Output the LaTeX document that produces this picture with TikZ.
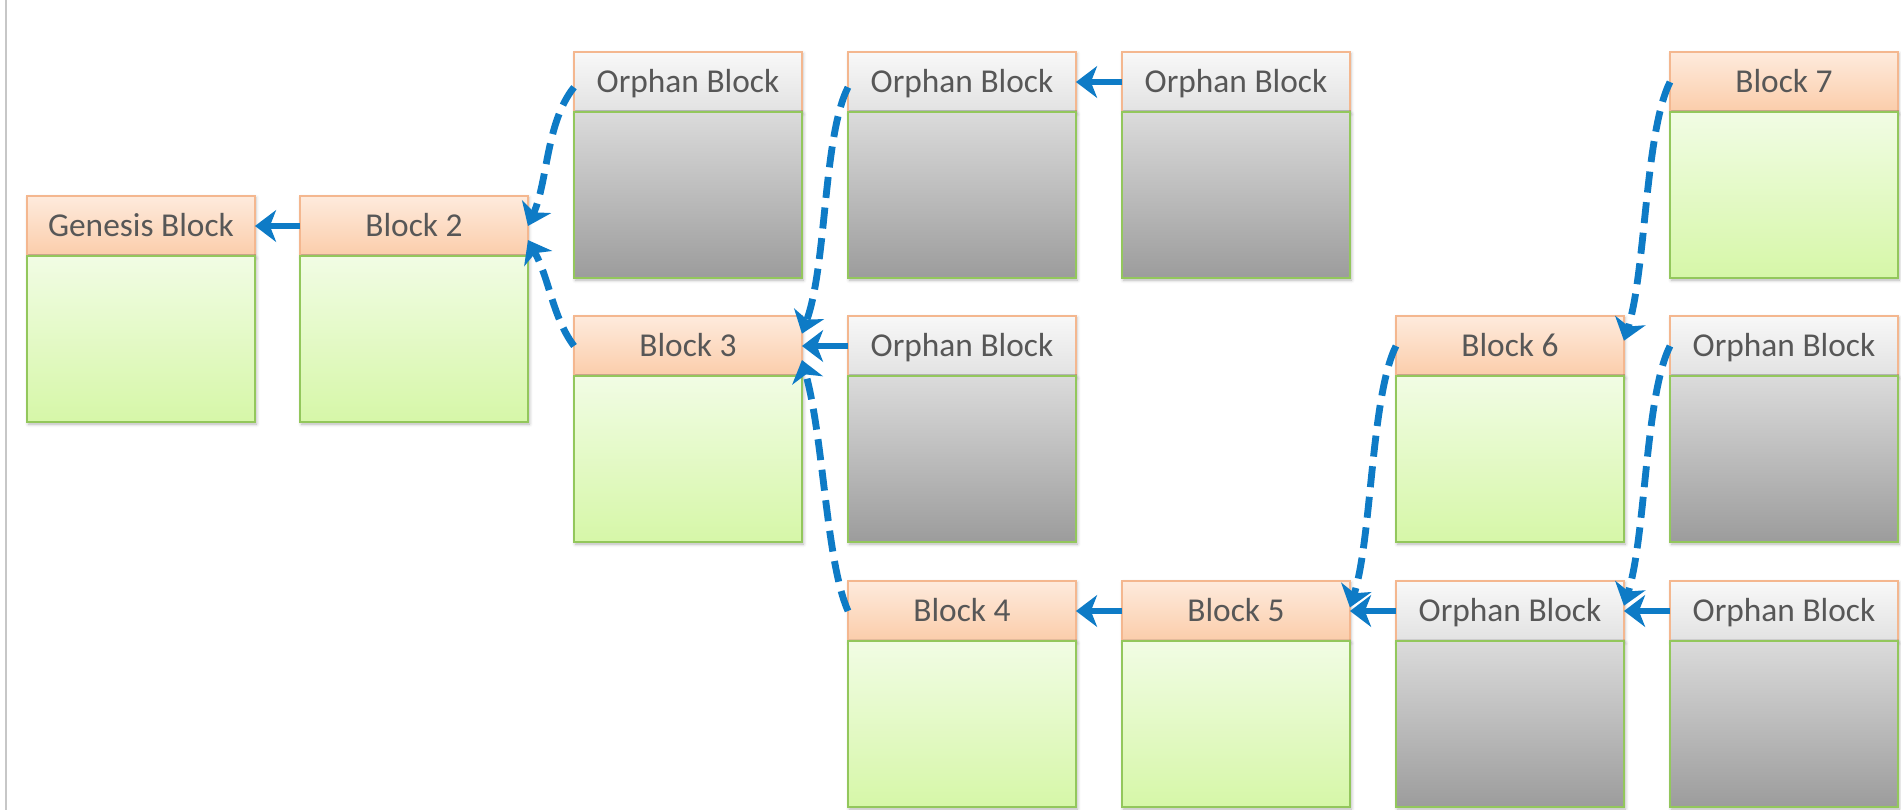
\documentclass[tikz,border=0pt]{standalone}
\usepackage{fontspec}
\setmainfont{Carlito}
\usetikzlibrary{arrows.meta,shadows.blur}

\definecolor{linkblue}{HTML}{0E7BC6}
\definecolor{peachline}{HTML}{F4B78F}
\definecolor{peachtop}{HTML}{FEEBDD}
\definecolor{peachbot}{HTML}{FBCDAA}
\definecolor{greyheadtop}{HTML}{F8F8F8}
\definecolor{greyheadbot}{HTML}{E2E2E2}
\definecolor{bodyline}{HTML}{93C75C}
\definecolor{greentop}{HTML}{F1FCE4}
\definecolor{greenbot}{HTML}{D6F7A8}
\definecolor{greytop}{HTML}{DBDBDB}
\definecolor{greymid}{HTML}{C5C5C5}
\definecolor{greybot}{HTML}{9C9C9C}
\definecolor{labelgrey}{HTML}{575757}

% one block: a titled header with an empty body below it
\newcommand\chainblock[5]{%
  \node[#4head, anchor=north west] (#1) at (#2,#3) {#5};
  \node[#4body, anchor=north] (#1-body) at (#1.south) {};
}

\begin{document}
\begin{tikzpicture}[x=0.02cm, y=0.02cm,
  head/.style={rectangle, draw=peachline, line width=1pt,
    minimum width=4.56cm, minimum height=1.2cm, inner sep=0pt, outer sep=0pt,
    text height=14.5pt, text depth=2pt,
    font=\fontsize{19}{22}\selectfont, text=labelgrey,
    blur shadow={shadow xshift=0.6pt, shadow yshift=-1pt, shadow blur steps=4, shadow opacity=25}},
  mainhead/.style={head, top color=peachtop, bottom color=peachbot},
  orphanhead/.style={head, top color=greyheadtop, bottom color=greyheadbot},
  body/.style={rectangle, draw=bodyline, line width=1.1pt,
    minimum width=4.56cm, minimum height=3.32cm, inner sep=0pt, outer sep=0pt,
    blur shadow={shadow xshift=0.8pt, shadow yshift=-1.2pt, shadow blur steps=4, shadow opacity=30}},
  mainbody/.style={body, top color=greentop, bottom color=greenbot},
  orphanbody/.style={body, top color=greytop, middle color=greymid, bottom color=greybot},
  link/.style={draw=linkblue, line width=3.9pt, -{Stealth[length=12pt,width=18pt,inset=3.5pt]}},
  dashlink/.style={link, dash pattern=on 12pt off 5.5pt}
]
\useasboundingbox (0,0) rectangle (1901,-810);

% page rule at the left edge
\draw[black!22, line width=1.5pt] (6,0) -- (6,-810);

% main chain
\chainblock{gen}{27}{-196}{main}{Genesis Block}
\chainblock{b2}{300}{-196}{main}{Block 2}
\chainblock{b3}{574}{-316}{main}{Block 3}
\chainblock{b4}{848}{-581}{main}{Block 4}
\chainblock{b5}{1122}{-581}{main}{Block 5}
\chainblock{b6}{1396}{-316}{main}{Block 6}
\chainblock{b7}{1670}{-52}{main}{Block 7}

% orphan blocks
\chainblock{oa}{574}{-52}{orphan}{Orphan Block}
\chainblock{ob}{848}{-52}{orphan}{Orphan Block}
\chainblock{oc}{1122}{-52}{orphan}{Orphan Block}
\chainblock{od}{848}{-316}{orphan}{Orphan Block}
\chainblock{oe}{1670}{-316}{orphan}{Orphan Block}
\chainblock{of}{1396}{-581}{orphan}{Orphan Block}
\chainblock{og}{1670}{-581}{orphan}{Orphan Block}

% direct links
\draw[link] (b2.west) -- (gen.east);
\draw[link] (oc.west) -- (ob.east);
\draw[link] (od.west) -- (b3.east);
\draw[link] (b5.west) -- (b4.east);
\draw[link] (of.west) -- (b5.east);
\draw[link] (og.west) -- (of.east);

% curved links between rows
\draw[dashlink] ([yshift=-3pt]oa.west) .. controls +(-28,-35) and +(20,45) .. ([yshift=0pt]b2.east);
\draw[dashlink] (b3.west) .. controls +(-22,30) and +(22,-40) .. ([yshift=-8pt]b2.east);
\draw[dashlink] ([yshift=-3pt]ob.west) .. controls +(-25,-50) and +(25,70) .. ([yshift=7pt]b3.east);
\draw[dashlink] (b4.west) .. controls +(-22,50) and +(22,-80) .. ([yshift=-8pt]b3.east);
\draw[dashlink] (b7.west) .. controls +(-25,-50) and +(22,70) .. ([yshift=3pt]b6.east);
\draw[dashlink] (b6.west) .. controls +(-25,-50) and +(22,70) .. ([yshift=2pt]b5.east);
\draw[dashlink] (oe.west) .. controls +(-25,-50) and +(22,70) .. ([yshift=3pt]of.east);
\end{tikzpicture}
\end{document}
